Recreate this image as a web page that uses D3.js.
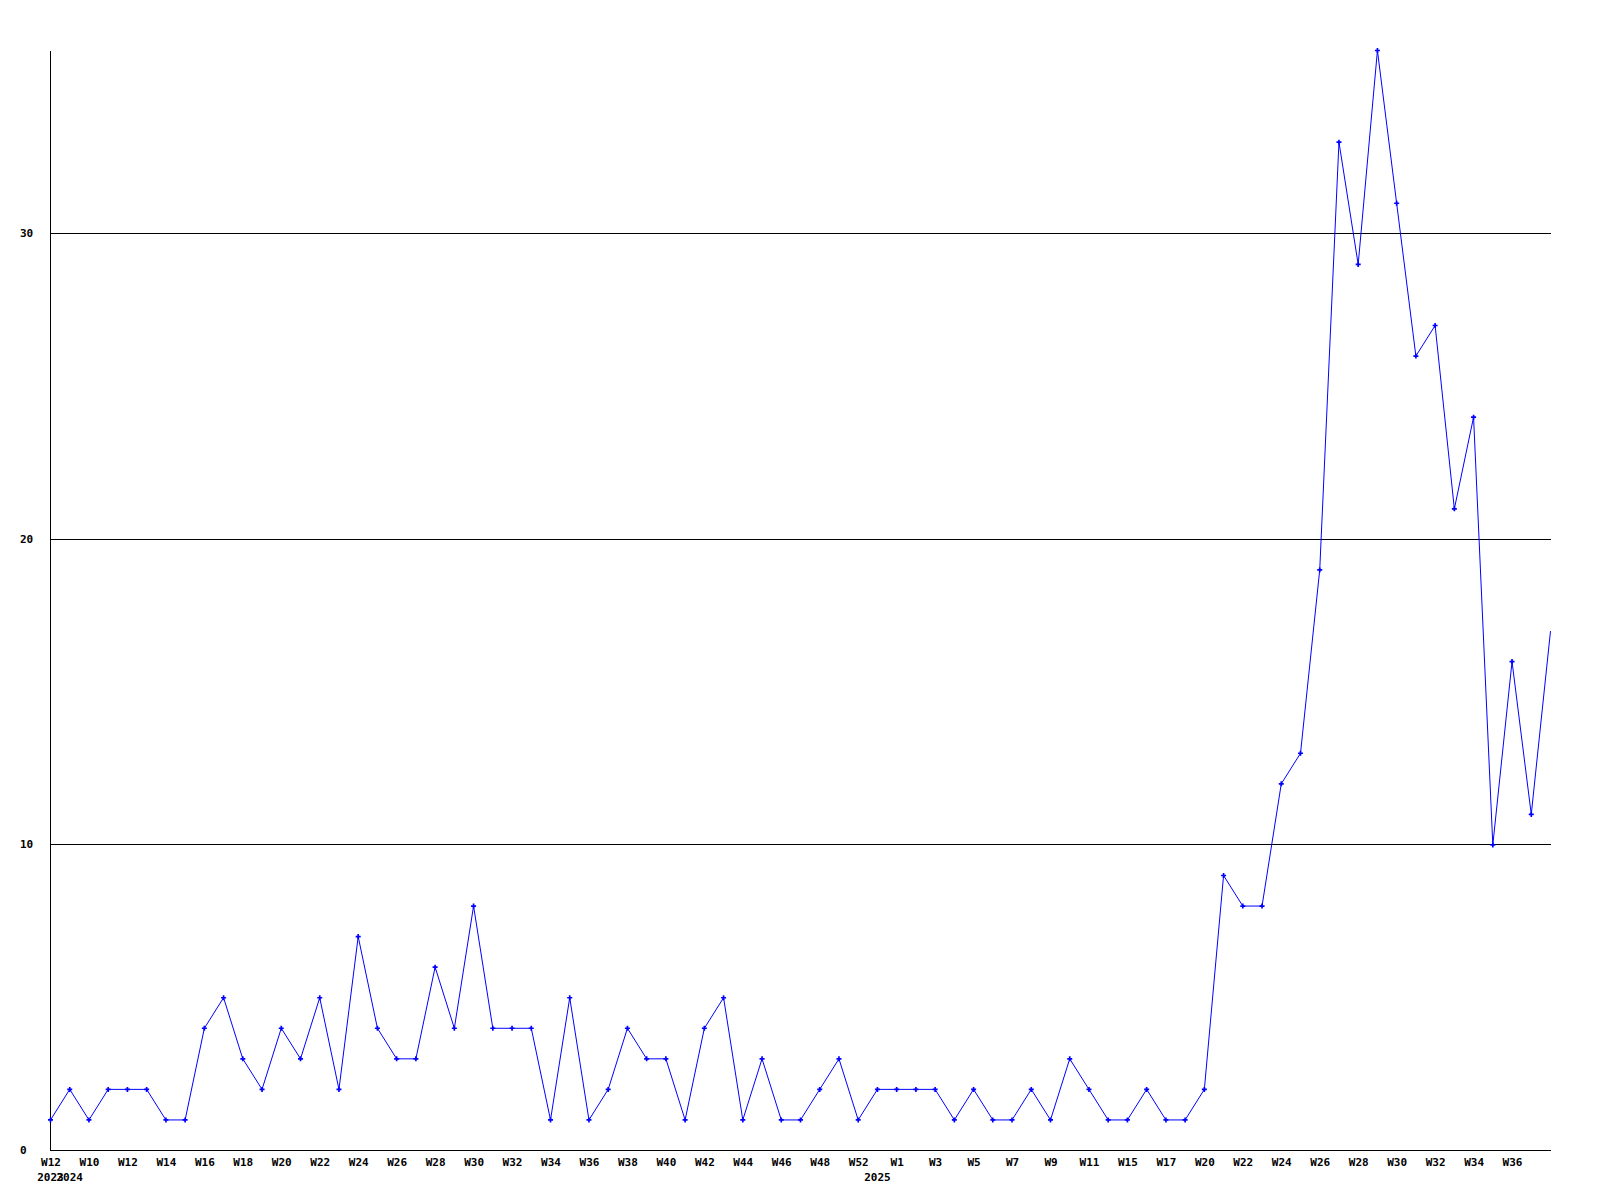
<!DOCTYPE html>
<html>
<head>
<meta charset="utf-8">
<script src="https://cdn.jsdelivr.net/npm/d3@7"></script>
<style>
  body { margin: 0; background: #fff; }
  text { font-family: "DejaVu Sans Mono", monospace; font-size: 11px; font-weight: bold; fill: #000; }
</style>
</head>
<body>
<div id="chart"></div>
<script>
// week labels (only every other one is printed on the axis)
var weeks = ["W12","W9","W10","W11","W12","W13","W14","W15","W16","W17",
             "W18","W19","W20","W21","W22","W23","W24","W25","W26","W27",
             "W28","W29","W30","W31","W32","W33","W34","W35","W36","W37",
             "W38","W39","W40","W41","W42","W43","W44","W45","W46","W47",
             "W48","W50","W52","W1","W1","W2","W3","W4","W5","W6",
             "W7","W8","W9","W10","W11","W13","W15","W16","W17","W19",
             "W20","W21","W22","W23","W24","W25","W26","W27","W28","W29",
             "W30","W31","W32","W33","W34","W35","W36","W37","W38"];

// counts per week
var counts = [1,2,1,2,2,2,1,1,4,5,
              3,2,4,3,5,2,7,4,3,3,
              6,4,8,4,4,4,1,5,1,2,
              4,3,3,1,4,5,1,3,1,1,
              2,3,1,2,2,2,2,1,2,1,
              1,2,1,3,2,1,1,2,1,1,
              2,9,8,8,12,13,19,33,29,36,
              31,26,27,21,24,10,16,11,17];

// year captions under the week labels
var yearIndex = [0, 1, 43];
var yearText = ["2023", "2024", "2025"];

var yTicks = [0, 10, 20, 30];

var width = 1600, height = 1200;
var margin = {top: 50, right: 50, bottom: 50, left: 50};

var svg = d3.select("#chart").append("svg")
    .attr("width", width)
    .attr("height", height);

var x = d3.scaleLinear()
    .domain([0, counts.length - 1])
    .range([margin.left + 0.5, width - margin.right + 0.5]);

var y = d3.scaleLinear()
    .domain([0, 36])
    .range([height - margin.bottom + 0.5, margin.top + 0.5]);

// horizontal grid lines
svg.append("g")
  .selectAll("line")
  .data(yTicks.filter(function(d) { return d > 0; }))
  .enter().append("line")
    .attr("x1", x(0))
    .attr("x2", x(counts.length - 1))
    .attr("y1", function(d) { return y(d); })
    .attr("y2", function(d) { return y(d); })
    .attr("stroke", "#000")
    .attr("shape-rendering", "crispEdges");

// x axis
var xAxis = svg.append("g")
    .attr("transform", "translate(0," + y(0) + ")")
    .call(d3.axisBottom(x)
      .tickValues(d3.range(0, counts.length - 1, 2))
      .tickFormat(function(i) { return weeks[i]; })
      .tickSize(0)
      .tickSizeOuter(0));
xAxis.select(".domain")
    .attr("stroke", "#000")
    .attr("shape-rendering", "crispEdges")
    .attr("d", "M" + x(0) + ",0H" + x(counts.length - 1));
xAxis.selectAll("text")
    .attr("y", 15.5)
    .attr("dy", 0);
xAxis.attr("font-family", null).attr("font-size", null);

// year captions
svg.append("g")
  .selectAll("text")
  .data(yearIndex)
  .enter().append("text")
    .attr("x", function(i) { return x(i); })
    .attr("y", y(0) + 30.5)
    .attr("text-anchor", "middle")
    .text(function(d, k) { return yearText[k]; });

// y axis
var yAxis = svg.append("g")
    .attr("transform", "translate(" + x(0) + ",0)")
    .call(d3.axisLeft(y)
      .tickValues(yTicks)
      .tickSize(0)
      .tickSizeOuter(0));
yAxis.select(".domain")
    .attr("stroke", "#000")
    .attr("shape-rendering", "crispEdges")
    .attr("d", "M0," + y(36) + "V" + y(0));
yAxis.selectAll("text")
    .attr("x", 20 - x(0))
    .attr("dy", 3)
    .attr("text-anchor", "start");
yAxis.attr("font-family", null).attr("font-size", null).attr("text-anchor", null);

// data line
var line = d3.line()
    .x(function(d, i) { return x(i); })
    .y(function(d) { return y(d); });

svg.append("path")
    .datum(counts)
    .attr("fill", "none")
    .attr("stroke", "#0000ff")
    .attr("stroke-width", 1)
    .attr("d", line);

// point markers
svg.append("g")
  .selectAll("path")
  .data(counts.slice(0, counts.length - 1))
  .enter().append("path")
    .attr("transform", function(d, i) { return "translate(" + x(i) + "," + y(d) + ")"; })
    .attr("d", d3.symbol().type(d3.symbolCross).size(14))
    .attr("fill", "#0000ff");
</script>
</body>
</html>
